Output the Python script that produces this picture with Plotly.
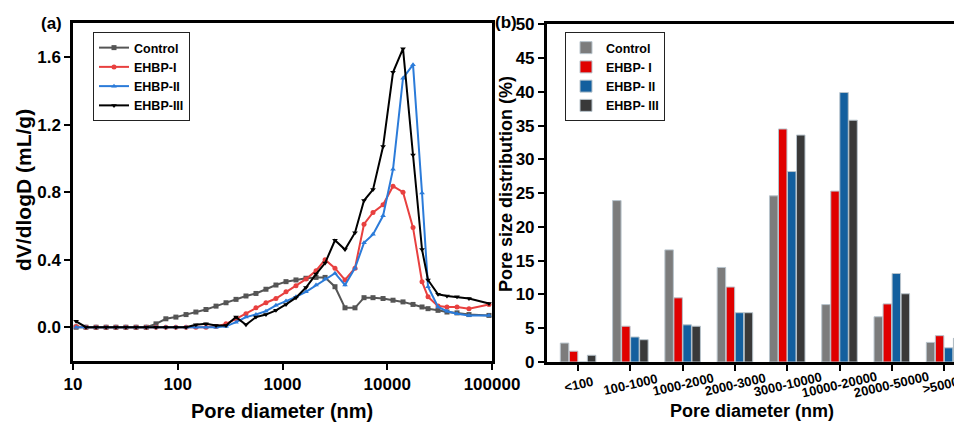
import plotly.graph_objects as go

# ---------------- Panel (a) data ----------------
pore_nm = [10.7, 13.3, 16.6, 20.7, 25.7, 32, 40, 50, 62, 77, 96, 120, 149, 186, 232, 289,
           360, 448, 558, 695, 866, 1080, 1345, 1675, 2090, 2550, 3170, 3950, 4920, 6000,
           7310, 9120, 11350, 14140, 17620, 21480, 24500, 30530, 37170, 46340, 60300, 93550]

control = [0, 0, 0, 0, 0, 0, 0, 0, 0.02, 0.05, 0.06, 0.075, 0.09, 0.105, 0.125, 0.145,
           0.165, 0.185, 0.20, 0.225, 0.25, 0.27, 0.28, 0.29, 0.295, 0.295, 0.24, 0.115, 0.115, 0.175,
           0.175, 0.17, 0.16, 0.15, 0.135, 0.12, 0.11, 0.10, 0.09, 0.085, 0.075, 0.07]

ehbp_1 = [0.005, 0, 0, 0, 0, 0, 0, 0, 0, 0, 0, 0, 0, 0, 0.005, 0.02,
          0.05, 0.08, 0.115, 0.145, 0.17, 0.21, 0.245, 0.285, 0.335, 0.40, 0.35, 0.28, 0.35, 0.61,
          0.68, 0.725, 0.835, 0.80, 0.59, 0.27, 0.18, 0.125, 0.12, 0.12, 0.11, 0.135]

ehbp_2 = [0, 0, 0, 0, 0, 0, 0, 0, 0, 0, 0, 0, 0, 0, 0, 0.005,
          0.03, 0.06, 0.075, 0.095, 0.13, 0.155, 0.18, 0.21, 0.25, 0.285, 0.32, 0.25, 0.35, 0.50,
          0.55, 0.66, 0.935, 1.475, 1.555, 0.795, 0.24, 0.12, 0.095, 0.08, 0.07, 0.07]

ehbp_3 = [0.035, 0, 0, 0, 0, 0, 0, 0, 0, 0, 0, 0, 0.015, 0.02, 0.01, 0.01,
          0.06, 0.015, 0.06, 0.075, 0.10, 0.135, 0.175, 0.235, 0.315, 0.38, 0.515, 0.46, 0.56, 0.75,
          0.815, 1.07, 1.51, 1.65, 1.02, 0.46, 0.28, 0.195, 0.185, 0.18, 0.17, 0.14]

x_tick_vals_a = [10, 100, 1000, 10000, 100000]
x_tick_text_a = ["10", "100", "1000", "10000", "100000"]

# ---------------- Panel (b) data ----------------
ranges = ["<100", "100-1000", "1000-2000", "2000-3000", "3000-10000",
          "10000-20000", "20000-50000", ">50000"]
bar_control = [2.8, 23.9, 16.6, 14.0, 24.6, 8.5, 6.7, 2.9]
bar_ehbp_1 = [1.6, 5.3, 9.5, 11.1, 34.5, 25.3, 8.6, 3.9]
bar_ehbp_2 = [0.0, 3.7, 5.5, 7.3, 28.2, 39.9, 13.1, 2.1]
bar_ehbp_3 = [1.0, 3.3, 5.3, 7.3, 33.6, 35.8, 10.1, 3.5]

W, H = 962, 423
OFF = 8  # page body margin offsets the graph div
FONT = "Liberation Sans, Arial, sans-serif"


def px_x(v):
    return (v - OFF) / W


def px_y(v):
    return 1 - (v - OFF) / H


def bold(size):
    return dict(family=FONT, size=size, color="black", weight="bold")


fig = go.Figure()

line_series = [
    ("Control", control, "#555555", "square"),
    ("EHBP-I", ehbp_1, "#e8403f", "circle"),
    ("EHBP-II", ehbp_2, "#2b7bd9", "triangle-up"),
    ("EHBP-III", ehbp_3, "#000000", "triangle-down"),
]
for name, vals, col, sym in line_series:
    fig.add_trace(go.Scatter(
        x=pore_nm, y=vals, name=name, mode="lines+markers",
        line=dict(color=col, width=2),
        marker=dict(symbol=sym, size=5, color=col),
        xaxis="x", yaxis="y", legend="legend",
    ))

bar_series = [
    ("Control", bar_control, "#7c7c7c"),
    ("EHBP- I", bar_ehbp_1, "#e00000"),
    ("EHBP- II", bar_ehbp_2, "#135f9e"),
    ("EHBP- III", bar_ehbp_3, "#393939"),
]
for name, vals, col in bar_series:
    fig.add_trace(go.Bar(
        x=ranges, y=vals, name=name,
        marker=dict(color=col, line=dict(color="#b8c4cc", width=1)),
        xaxis="x2", yaxis="y2", legend="legend2",
    ))

axis_common = dict(
    showline=True, linecolor="black", linewidth=2.5,
    ticks="outside", ticklen=6, tickwidth=2, tickcolor="black",
    showgrid=False, zeroline=False,
    tickfont=bold(17),
)

# right panel extends past the visible window edge
cat0_px, cat_step = 578.0, 52.3
x2_right = (W + OFF - cat0_px) / cat_step

fig.update_layout(
    width=W, height=H,
    margin=dict(l=0, r=0, t=0, b=0, autoexpand=False),
    paper_bgcolor="white", plot_bgcolor="white",
    showlegend=True,
    barmode="group", bargap=0.31, bargroupgap=0.06,
    xaxis=dict(
        type="log", range=[1, 5],
        domain=[px_x(73), px_x(492)],
        tickvals=x_tick_vals_a, ticktext=x_tick_text_a,
        mirror=True, anchor="y",
        **axis_common,
    ),
    yaxis=dict(
        range=[-0.2, 1.8], tick0=0, dtick=0.4, tickformat=".1f",
        domain=[px_y(361), px_y(23.3)],
        mirror=True, anchor="x",
        **axis_common,
    ),
    xaxis2=dict(
        type="category", range=[-0.6, x2_right],
        domain=[px_x(546.7), 1.0],
        showticklabels=False,
        mirror=True, anchor="y2",
        **axis_common,
    ),
    yaxis2=dict(
        range=[0, 50], dtick=5,
        domain=[px_y(362), px_y(24.3)],
        mirror=False, anchor="x2",
        **axis_common,
    ),
    legend=dict(
        x=px_x(93), y=px_y(32), xanchor="left", yanchor="top",
        bordercolor="#222222", borderwidth=1, bgcolor="white",
        font=bold(12.5), itemwidth=30, tracegroupgap=0,
    ),
    legend2=dict(
        x=px_x(565), y=px_y(32), xanchor="left", yanchor="top",
        bordercolor="#222222", borderwidth=1, bgcolor="white",
        font=bold(12.5), itemwidth=30, tracegroupgap=0,
    ),
)

annos = [
    dict(text="(a)", x=px_x(51), y=px_y(23), font=bold(17)),
    dict(text="(b)", x=px_x(506), y=px_y(22), font=bold(17)),
    dict(text="dV/dlogD (mL/g)", x=px_x(24), y=px_y(190), textangle=-90, font=bold(21)),
    dict(text="Pore size distribution (%)", x=px_x(506), y=px_y(184), textangle=-90, font=bold(18)),
    dict(text="Pore diameter (nm)", x=px_x(282), y=px_y(411), font=bold(20)),
    dict(text="Pore diameter (nm)", x=px_x(752), y=px_y(411), font=bold(18)),
]
for a in annos:
    fig.add_annotation(xref="paper", yref="paper", showarrow=False,
                       xanchor="center", yanchor="middle", **a)

# category tick labels of panel (b), centred under their ticks and slanted
for cat in ranges:
    fig.add_annotation(xref="x2", yref="paper", x=cat, y=px_y(384), text=cat,
                       showarrow=False, textangle=-13, xanchor="center", yanchor="middle",
                       font=bold(13))

fig.write_html("out.html")
